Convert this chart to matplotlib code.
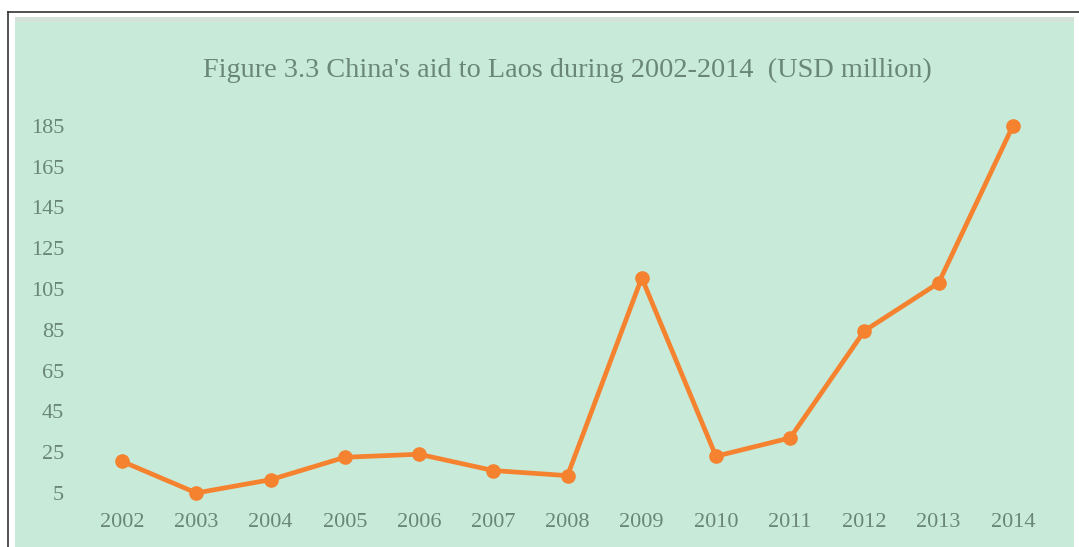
import matplotlib.pyplot as plt
from matplotlib.patches import Rectangle

years = [2002, 2003, 2004, 2005, 2006, 2007, 2008, 2009, 2010, 2011, 2012, 2013, 2014]
aid = [20.5, 5, 11.5, 22.5, 24, 16, 13.5, 110.5, 23, 32, 84.5, 108, 185]
yticks = [5, 25, 45, 65, 85, 105, 125, 145, 165, 185]

W, H = 1079, 547
fig = plt.figure(figsize=(W / 100, H / 100), dpi=100)
fig.patch.set_facecolor('white')

green = '#c8ead8'
text_col = '#6a8678'
orange = '#f5822f'

# panel background and frame line
fig.patches.append(Rectangle((15 / W, 0), (1074 - 15) / W, (H - 17) / H,
                             transform=fig.transFigure, facecolor=green,
                             edgecolor='none', zorder=-2))
fig.patches.append(Rectangle((15 / W, (H - 22) / H), (1074 - 15) / W, 5 / H,
                             transform=fig.transFigure, facecolor='#d3e2d9',
                             edgecolor='none', zorder=-1))
fig.add_artist(plt.Line2D([8 / W, 8 / W], [0, (H - 12) / H],
                          transform=fig.transFigure, color='#333333', lw=1.2))
fig.add_artist(plt.Line2D([8 / W, 1], [(H - 12) / H, (H - 12) / H],
                          transform=fig.transFigure, color='#333333', lw=1.2))

ax = fig.add_axes([85 / W, (H - 505) / H, (1050 - 85) / W, (505 - 100) / H])
ax.set_zorder(2)
ax.set_facecolor('none')
ax.plot(years, aid, color=orange, lw=3.4, marker='o', markersize=9.5,
        solid_joinstyle='round')

ax.set_xlim(2001.5, 2014.5)
ax.set_ylim(-0.9, 197.7)
ax.set_xticks(years)
ax.set_xticklabels([str(y) for y in years])
ax.set_yticks(yticks)
ax.tick_params(length=0, labelsize=16, colors=text_col, pad=6)
ax.tick_params(axis='y', pad=15)
for lab in ax.get_xticklabels() + ax.get_yticklabels():
    lab.set_fontfamily('Liberation Serif')
for s in ax.spines.values():
    s.set_visible(False)

fig.text(567 / W, 1 - 70 / H,
         "Figure 3.3 China's aid to Laos during 2002-2014  (USD million)",
         ha='center', va='center', fontsize=20.3, color=text_col,
         family='Liberation Serif')

fig.savefig('out.png', dpi=100)
